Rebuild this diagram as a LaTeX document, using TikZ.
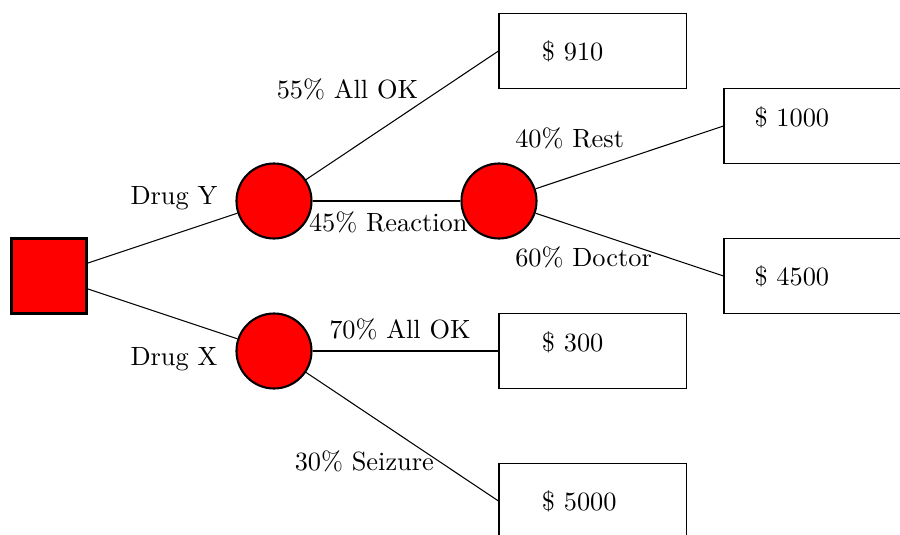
\documentclass[tikz,border=0pt]{standalone}
\begin{document}
\begin{tikzpicture}[
  decision/.style={draw, thick, fill=red, minimum size=1cm, inner sep=0pt},
  chance/.style={circle, draw, thick, fill=red, minimum size=1cm, inner sep=0pt},
  payoff/.style={draw, minimum width=2.5cm, minimum height=1cm, inner sep=0pt},
  lbl/.style={anchor=base west, inner sep=0pt},
  branch/.style={draw, black}
]
\useasboundingbox (-0.6533,-3.44) rectangle (11.3467,3.68);
\clip (-0.6533,-3.44) rectangle (11.3467,3.68);

% branch labels
\node[lbl] (lY)  at (1.08,0.947)  {Drug Y};
\node[lbl] (lX)  at (1.08,-1.187) {Drug X};
\node[lbl] (l55) at (3.03,2.37)   {55\% All OK};
\node[lbl] (l45) at (3.46,0.59)   {45\% Reaction};
\node[lbl] (l40) at (6.21,1.72)   {40\% Rest};
\node[lbl] (l60) at (6.21,0.124)  {60\% Doctor};
\node[lbl] (l70) at (3.73,-0.83)  {70\% All OK};
\node[lbl] (l30) at (3.27,-2.596) {30\% Seizure};

% nodes
\node[decision] (d) at (0,0) {};
\node[chance] (y) at (3,1) {};
\node[chance] (x) at (3,-1) {};
\node[chance] (r) at (6,1) {};
\node[payoff] (p910)  at (7.25,3)   {};
\node[payoff] (p1000) at (10.25,2)  {};
\node[payoff] (p4500) at (10.25,0)  {};
\node[payoff] (p300)  at (7.25,-1)  {};
\node[payoff] (p5000) at (7.25,-3)  {};

% payoff values
\node[lbl] (v910)  at (6.565,2.88)  {\$ 910};
\node[lbl] (v1000) at (9.40,2.0)    {\$ 1000};
\node[lbl] (v4500) at (9.40,-0.12)  {\$ 4500};
\node[lbl] (v300)  at (6.565,-1.013) {\$ 300};
\node[lbl] (v5000) at (6.565,-3.13) {\$ 5000};

% connectors
\path[branch] (d) -- (y);
\path[branch] (d) -- (x);
\path[branch] (y) -- (p910.west);
\path[branch] (y) -- (r);
\path[branch] (r) -- (p1000.west);
\path[branch] (r) -- (p4500.west);
\path[branch] (x) -- (p300.west);
\path[branch] (x) -- (p5000.west);
\end{tikzpicture}
\end{document}
